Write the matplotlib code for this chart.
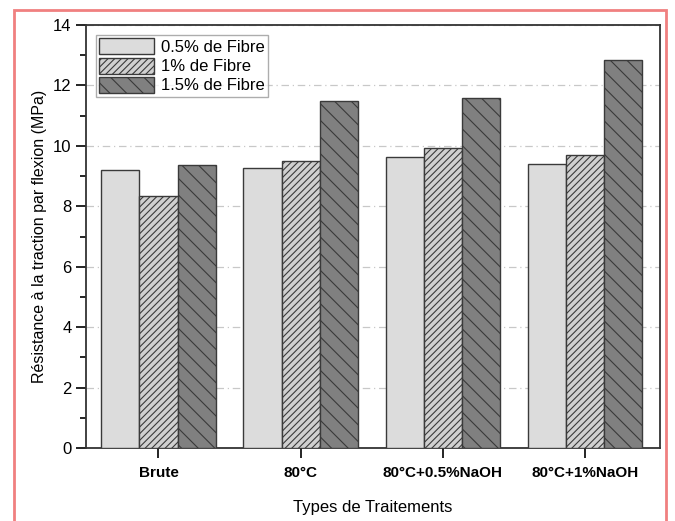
import matplotlib.pyplot as plt
import numpy as np
from matplotlib.patches import Rectangle
from matplotlib.ticker import MultipleLocator

plt.rcParams["font.family"] = ["Liberation Sans", "DejaVu Sans"]
plt.rcParams["hatch.linewidth"] = 0.8

categories = ["Brute", "80°C", "80°C+0.5%NaOH", "80°C+1%NaOH"]
series_names = ["0.5% de Fibre", "1% de Fibre", "1.5% de Fibre"]
fibre_05 = [9.2, 9.28, 9.64, 9.41]
fibre_10 = [8.34, 9.49, 9.93, 9.71]
fibre_15 = [9.37, 11.5, 11.6, 12.84]

fills = ["#dcdcdc", "#d0d0d0", "#808080"]
hatches = [None, "/////", "\\\\"]

fig = plt.figure(figsize=(6.75, 5.21), dpi=100)
ax = fig.add_axes([0.1274, 0.140, 0.8506, 0.812])

x = np.arange(len(categories))
width = 0.268
for i, (vals, name) in enumerate(zip([fibre_05, fibre_10, fibre_15], series_names)):
    ax.bar(x + (i - 1) * width, vals, width, color=fills[i], edgecolor="#3a3a3a",
           hatch=hatches[i], linewidth=1.0, label=name, zorder=3)

ax.set_ylim(0, 14)
ax.set_xlim(-0.51, 3.53)
ax.yaxis.set_major_locator(MultipleLocator(2))
ax.yaxis.set_minor_locator(MultipleLocator(1))
ax.set_xticks(x)
ax.set_xticklabels(categories, fontweight="bold", fontsize=11)
ax.tick_params(axis="y", which="major", direction="out", length=7, width=1.2, labelsize=12)
ax.tick_params(axis="y", which="minor", direction="out", length=4, width=1.2)
ax.tick_params(axis="x", direction="out", length=7, width=1.2, pad=6)
ax.grid(axis="y", which="major", color="#c8c8c8", linestyle=(0, (6, 3, 1, 3)),
        linewidth=0.9, zorder=0)
for s in ax.spines.values():
    s.set_linewidth(1.3)
    s.set_color("#333333")

ax.set_ylabel("Résistance à la traction par flexion (MPa)", fontsize=11.5)
ax.set_xlabel("Types de Traitements", fontsize=12, labelpad=14)

leg = ax.legend(loc="upper left", fontsize=12, frameon=True, fancybox=False,
                edgecolor="#999999", borderpad=0.2, handlelength=3.3, handleheight=1.1,
                handletextpad=0.4, labelspacing=0.15, borderaxespad=0.6)
leg.get_frame().set_linewidth(1.0)

fig.patches.append(Rectangle((0.021, -0.05), 0.966, 1.031, transform=fig.transFigure,
                             fill=False, edgecolor="#f08080", linewidth=2.0))

fig.savefig("out.png", dpi=100)
